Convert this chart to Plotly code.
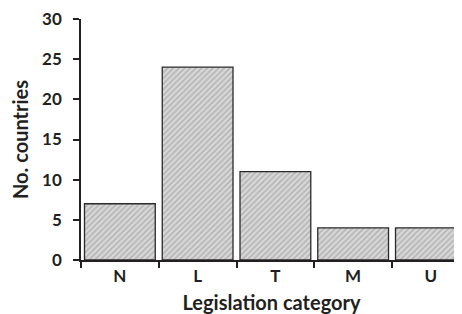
import plotly.graph_objects as go

categories = ["N", "L", "T", "M", "U"]
counts = [7, 24, 11, 4, 4]
y_ticks = [0, 5, 10, 15, 20, 25, 30]

font_family = "Lato, 'Open Sans', sans-serif"
ink = "#231f20"

fig = go.Figure(go.Bar(
    x=categories,
    y=counts,
    marker=dict(
        color="#d0d0d0",
        line=dict(color="#2a2a2a", width=1.3),
        pattern=dict(shape="/", fgcolor="#8f8f8f", bgcolor="#d8d8d8", size=4, solidity=0.4),
    ),
))

# page body has an 8px default margin; compensate so the plot area sits at
# x 81..462, y 19..252 in the 462x314 window
fig.update_layout(
    width=454, height=306,
    margin=dict(l=73, r=0, t=11, b=54),
    paper_bgcolor="white", plot_bgcolor="white",
    bargap=0.09,
    showlegend=False,
    font=dict(family=font_family, size=17, color=ink),
)
fig.update_xaxes(
    range=[-0.5, 4.4],
    automargin=False,
    showline=True, linecolor=ink, linewidth=1.5,
    ticks="outside", tickson="boundaries", ticklen=6, tickwidth=1.5, tickcolor=ink,
    tickfont=dict(family=font_family, size=17, color=ink, weight="bold"),
    ticklabeloverflow="allow",
    title=dict(text="<b>Legislation category</b>", font=dict(size=20), standoff=13),
    showgrid=False, zeroline=False,
)
fig.update_yaxes(
    range=[0, 30],
    automargin=False,
    tickvals=y_ticks,
    showline=True, linecolor=ink, linewidth=1.5,
    ticks="outside", ticklen=6, tickwidth=1.5, tickcolor=ink,
    ticklabelstandoff=8,
    ticklabeloverflow="allow",
    tickfont=dict(family=font_family, size=17, color=ink, weight="bold"),
    title=dict(text="<b>No. countries</b>", font=dict(size=20), standoff=9),
    showgrid=False, zeroline=False,
)

fig.write_html("out.html")
